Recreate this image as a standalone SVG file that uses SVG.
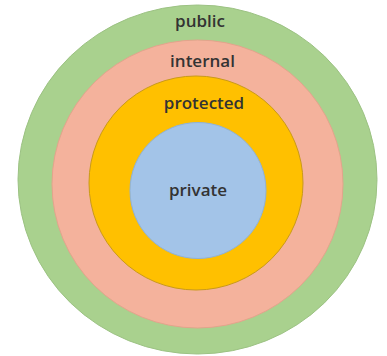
<svg xmlns="http://www.w3.org/2000/svg" width="387" height="356" viewBox="0 0 387 356">
<style>
.lbl{font-family:"Open Sans","Noto Sans",sans-serif;font-size:17px;font-weight:600;fill:#333333;text-anchor:middle}
</style>
<rect width="387" height="356" fill="#ffffff"/>
<g id="public">
<ellipse cx="197.5" cy="179.5" rx="179.5" ry="174.5" fill="#a9d18e" stroke="#9cc283" stroke-width="1"/>
<text class="lbl" x="200" y="27">public</text>
</g>
<g id="internal">
<ellipse cx="197.5" cy="184" rx="145.5" ry="144" fill="#f4b29c" stroke="#e3a48c" stroke-width="1"/>
<text class="lbl" x="202.5" y="67">internal</text>
</g>
<g id="protected">
<circle cx="196" cy="183" r="107" fill="#ffc000" stroke="#c99a1a" stroke-width="1"/>
<text class="lbl" x="204" y="109">protected</text>
</g>
<g id="private">
<circle cx="198" cy="190.5" r="68" fill="#a3c4e8" stroke="#8fb2d8" stroke-width="1"/>
<text class="lbl" x="198" y="196">private</text>
</g>
<g id="connectors"/>
</svg>
